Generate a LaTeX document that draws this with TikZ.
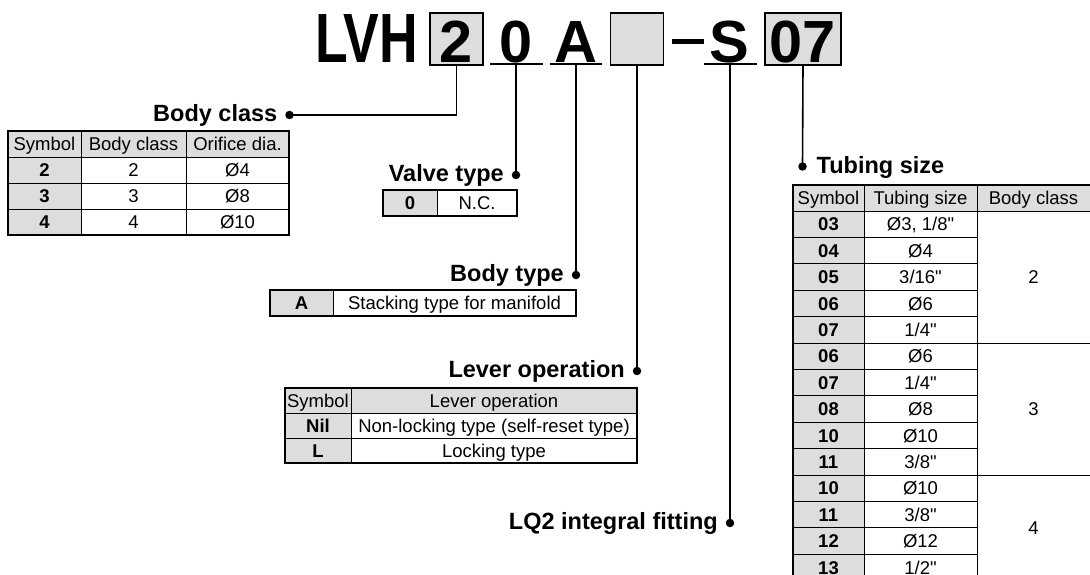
\documentclass[tikz,border=0pt]{standalone}
\usepackage{fontspec}
\setmainfont{Liberation Sans}[Ligatures=TeXOff]
\usepackage{graphicx}
\definecolor{hgray}{HTML}{DDDDDD}
\begin{document}
\begin{tikzpicture}[x=1pt,y=-1pt,
  conn/.style={line width=1.6pt},
  dotn/.style={circle,fill=black,inner sep=0pt,minimum size=8.5pt},
  lbl/.style={font=\fontsize{23.5}{26}\selectfont\bfseries,inner sep=0pt},
  cell/.style={font=\fontsize{18.5}{20}\selectfont,inner sep=0pt,text height=13.3pt,text depth=0pt,anchor=center},
  symc/.style={cell,font=\fontsize{18.5}{20}\selectfont\bfseries},
  hbox/.style={draw,line width=1.7pt,fill=hgray,minimum height=52pt,inner sep=0pt},
  hch/.style={font=\fontsize{59.5}{60}\selectfont\bfseries,inner sep=0pt,anchor=base},
  uline/.style={line width=2pt},
  tborder/.style={line width=1.4pt},
  tline/.style={line width=0.9pt}]
\useasboundingbox (0,0) rectangle (1090,575);
\begin{scope}
\clip (0,0) rectangle (1090,575);

% ---------- header ----------
\node[inner sep=0pt,anchor=base west] (lvh) at (315,63) {\resizebox{103pt}{48pt}{\fontsize{59.5}{60}\selectfont\bfseries LVH}};
\node[hbox,minimum width=53pt] (b2) at (456.5,39) {};
\node[hch] (c2) at (456.5,63) {2};
\node[hch] (c0) at (516.5,63) {0};
\node[hch] (cA) at (575.5,63) {A};
\node[hbox,minimum width=53pt] (bE) at (637,39) {};
\node[inner sep=0pt] (cdash) at (688,41.5) {\resizebox{32pt}{4.5pt}{\rule{10pt}{1.4pt}}};
\node[hch] (cS) at (729,63) {S};
\node[hbox,minimum width=76pt] (b07) at (803,39) {};
\node[hch] (c07) at (803,63) {07};

\coordinate (u0) at (516,64);
\coordinate (uA) at (576,64);
\coordinate (uS) at (730,64);
\draw[uline] (490,64) -- (543,64);
\draw[uline] (550,64) -- (602,64);
\draw[uline] (704,64) -- (757,64);

% ---------- dots ----------
\node[dotn] (dBody) at (289.5,115) {};
\node[dotn] (dValve) at (516,175) {};
\node[dotn] (dBtype) at (576,275) {};
\node[dotn] (dLever) at (637,371) {};
\node[dotn] (dLQ) at (730,523) {};
\node[dotn] (dTube) at (802.5,166.5) {};

% ---------- connectors ----------
\draw[conn] (b2.south) |- (dBody.center);
\draw[conn] (u0) -- (dValve.center);
\draw[conn] (uA) -- (dBtype.center);
\draw[conn] (bE.south) -- (dLever.center);
\draw[conn] (uS) -- (dLQ.center);
\draw[conn] (b07.south) -- (dTube.center);

% ---------- labels ----------
\node[lbl,anchor=base east] (tBody) at (277.5,121.7) {Body class};
\node[lbl,anchor=base east] (tValve) at (504,181.7) {Valve type};
\node[lbl,anchor=base east] (tBtype) at (564,281.7) {Body type};
\node[lbl,anchor=base east] (tLever) at (625,377.7) {Lever operation};
\node[lbl,anchor=base east] (tLQ) at (718,529.7) {LQ2 integral fitting};
\node[lbl,anchor=base west] (tTube) at (816.5,173.2) {Tubing size};

% ---------- Body class table ----------
\fill[hgray] (8,131) rectangle (289,157);
\fill[hgray] (8,157) rectangle (81,235);
\draw[tline] (81,131) -- (81,235);
\draw[tline] (186,131) -- (186,235);
\foreach \yy in {157,183,209} \draw[tline] (8,\yy) -- (289,\yy);
\draw[tborder] (8,131) rectangle (289,235);
\node[cell] (bcH1) at (44.5,144) {Symbol};
\node[cell] (bcH2) at (133.5,144) {Body class};
\node[cell] (bcH3) at (237.5,144) {Orifice dia.};
\node[symc] (bcS1) at (44.5,170) {2};
\node[cell] (bcB1) at (133.5,170) {2};
\node[cell] (bcO1) at (237.5,170) {Ø4};
\node[symc] (bcS2) at (44.5,196) {3};
\node[cell] (bcB2) at (133.5,196) {3};
\node[cell] (bcO2) at (237.5,196) {Ø8};
\node[symc] (bcS3) at (44.5,222) {4};
\node[cell] (bcB3) at (133.5,222) {4};
\node[cell] (bcO3) at (237.5,222) {Ø10};

% ---------- Valve type table ----------
\fill[hgray] (383,190) rectangle (437,216);
\draw[tline] (437,190) -- (437,216);
\draw[tborder] (383,190) rectangle (517,216);
\node[symc] (vtS) at (410,203) {0};
\node[cell] (vtD) at (477,203) {N.C.};

% ---------- Body type table ----------
\fill[hgray] (270,290) rectangle (333,316);
\draw[tline] (333,290) -- (333,316);
\draw[tborder] (270,290) rectangle (576,316);
\node[symc] (btS) at (301.5,303) {A};
\node[cell] (btD) at (454.5,303) {Stacking type for manifold};

% ---------- Lever operation table ----------
\fill[hgray] (285,388) rectangle (637,413);
\fill[hgray] (285,413) rectangle (351,463);
\draw[tline] (351,388) -- (351,463);
\draw[tline] (285,413) -- (637,413);
\draw[tline] (285,438) -- (637,438);
\draw[tborder] (285,388) rectangle (637,463);
\node[cell] (loH1) at (318,400.5) {Symbol};
\node[cell] (loH2) at (494,400.5) {Lever operation};
\node[symc] (loS1) at (318,425.5) {Nil};
\node[cell] (loD1) at (494,425.5) {Non-locking type (self-reset type)};
\node[symc] (loS2) at (318,450.5) {L};
\node[cell] (loD2) at (494,450.5) {Locking type};

% ---------- Tubing size table ----------
\fill[hgray] (793,185) rectangle (1096,211);
\fill[hgray] (793,211) rectangle (864,600);
\foreach \k in {1,...,13} \draw[tline] (793,{211+\k*26.4}) -- (977,{211+\k*26.4});
\draw[tline] (793,211) -- (1096,211);
\draw[tline] (977,343) -- (1096,343);
\draw[tline] (977,475) -- (1096,475);
\draw[tline] (864,185) -- (864,600);
\draw[tline] (977,185) -- (977,600);
\draw[tborder] (1096,185) -- (793,185) -- (793,600);
\node[cell] (tsH1) at (828.5,198) {Symbol};
\node[cell] (tsH2) at (920.5,198) {Tubing size};
\node[cell] (tsH3) at (1033.5,198) {Body class};
\foreach \s/\t [count=\i] in {03/{Ø3, 1/8"},04/{Ø4},05/{3/16"},06/{Ø6},07/{1/4"},06/{Ø6},07/{1/4"},08/{Ø8},10/{Ø10},11/{3/8"},10/{Ø10},11/{3/8"},12/{Ø12},13/{1/2"}}{
  \node[symc] (tsS\i) at (828.5,{211+(\i-0.5)*26.4}) {\s};
  \node[cell] (tsT\i) at (920.5,{211+(\i-0.5)*26.4}) {\t};
}
\node[cell] (tsB1) at (1033.5,277) {2};
\node[cell] (tsB2) at (1033.5,409) {3};
\node[cell] (tsB3) at (1033.5,527.8) {4};
\end{scope}
\end{tikzpicture}
\end{document}
